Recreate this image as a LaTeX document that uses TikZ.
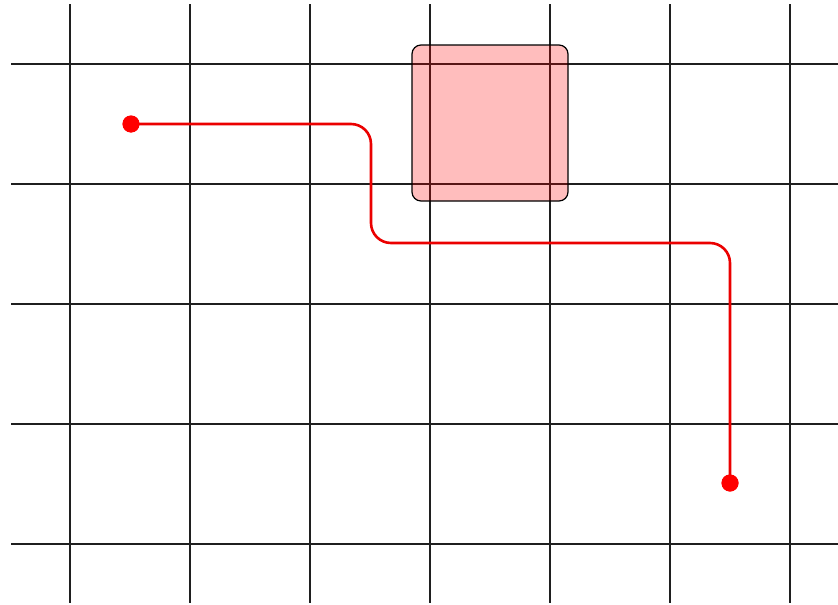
\documentclass[tikz,border=0pt]{standalone}
\begin{document}
\begin{tikzpicture}[x=1pt,y=-1pt,
  gridline/.style={line width=1.8pt,draw=black!88},
  route/.style={line width=2.6pt,draw=red!92!black,rounded corners=20pt},
  dot/.style={circle,fill=red,inner sep=0pt,minimum size=17pt},
  zone/.style={draw=black,line width=1.2pt,fill=red,fill opacity=0.26,rounded corners=9pt}]
\useasboundingbox (0,0) rectangle (838,605);
% grid
\foreach \gx in {70,190,310,430,550,670,790}
  \draw[gridline] (\gx,4) -- (\gx,603);
\foreach \gy in {64,184,304,424,544}
  \draw[gridline] (11,\gy) -- (838,\gy);
% zone
\draw[zone] (412,45) rectangle (568,201);
% route
\node[dot] (s) at (131,124) {};
\node[dot] (e) at (730,483) {};
\coordinate (c1) at (371,124);
\coordinate (c2) at (371,243);
\coordinate (c3) at (730,243);
\draw[route] (s.center) -- (c1) -- (c2) -- (c3) -- (e.center);
\node[dot] at (s) {};
\node[dot] at (e) {};
\end{tikzpicture}
\end{document}
